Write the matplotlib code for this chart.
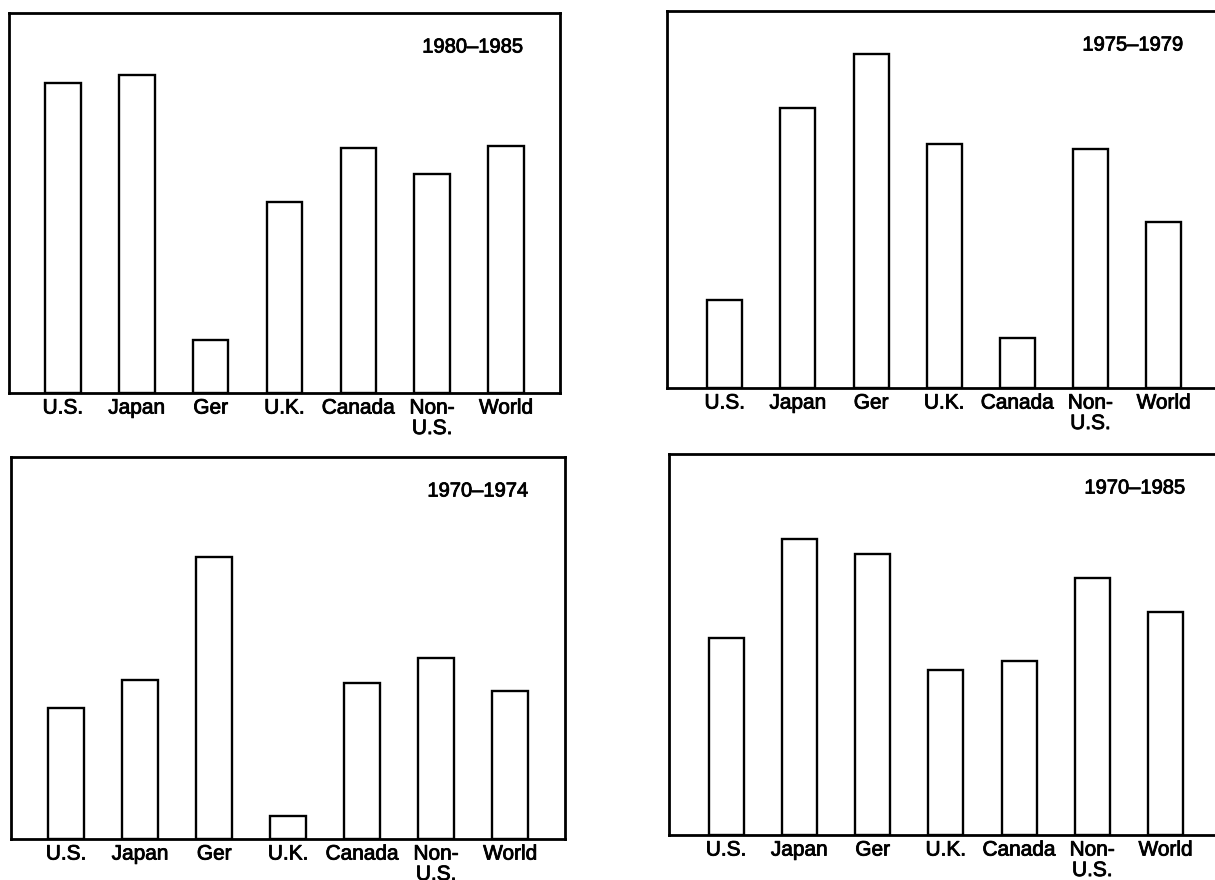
import matplotlib.pyplot as plt
import matplotlib.patheffects as pe

plt.rcParams['font.family'] = ['Liberation Sans', 'DejaVu Sans']

# x categories (same for every panel)
categories = ['U.S.', 'Japan', 'Ger', 'U.K.', 'Canada', 'Non-\nU.S.', 'World']

# bar heights, panel height = 10 units
vals_1980_1985 = [8.16, 8.37, 1.39, 5.03, 6.45, 5.76, 6.50]
vals_1975_1979 = [2.34, 7.42, 8.87, 6.47, 1.32, 6.34, 4.39]
vals_1970_1974 = [3.42, 4.16, 7.39, 0.61, 4.08, 4.74, 3.87]
vals_1970_1985 = [5.18, 7.76, 7.37, 4.34, 4.58, 6.74, 5.84]

periods = ['1980–1985', '1975–1979', '1970–1974', '1970–1985']
series = [vals_1980_1985, vals_1975_1979, vals_1970_1974, vals_1970_1985]

W, H = 1215, 880
fig = plt.figure(figsize=(W / 100, H / 100), dpi=100)

# printed text looks a bit heavy in the scan
ink = [pe.withStroke(linewidth=0.6, foreground='black')]

# panel frames in pixels (left, top, right, bottom); right panels run off the page
boxes = [(9, 13, 560, 393), (667, 11, 1220, 388),
         (11, 457, 565, 839), (669, 454, 1222, 835)]
xlims = [(-0.73, 6.73), (-0.79, 6.77), (-0.745, 6.74), (-0.78, 6.77)]

for i in range(4):
    l, t, r, b = boxes[i]
    ax = fig.add_axes([l / W, 1 - b / H, (r - l) / W, (b - t) / H])
    x = range(len(categories))
    ax.bar(x, series[i], width=0.48, color='white', edgecolor='black', linewidth=1.7)
    ax.set_xlim(*xlims[i])
    ax.set_ylim(0, 10)
    ax.set_yticks([])
    ax.set_xticks(list(x))
    ax.set_xticklabels(categories, fontsize=15, linespacing=1.1, path_effects=ink)
    ax.tick_params(axis='x', length=0, pad=4)
    for s in ax.spines.values():
        s.set_linewidth(2.0)
    ax.annotate(periods[i], xy=(1, 1), xycoords='axes fraction', xytext=(-37, -34),
                textcoords='offset pixels', ha='right', va='center', fontsize=14.5,
                path_effects=ink)

fig.savefig('out.png', dpi=100)
